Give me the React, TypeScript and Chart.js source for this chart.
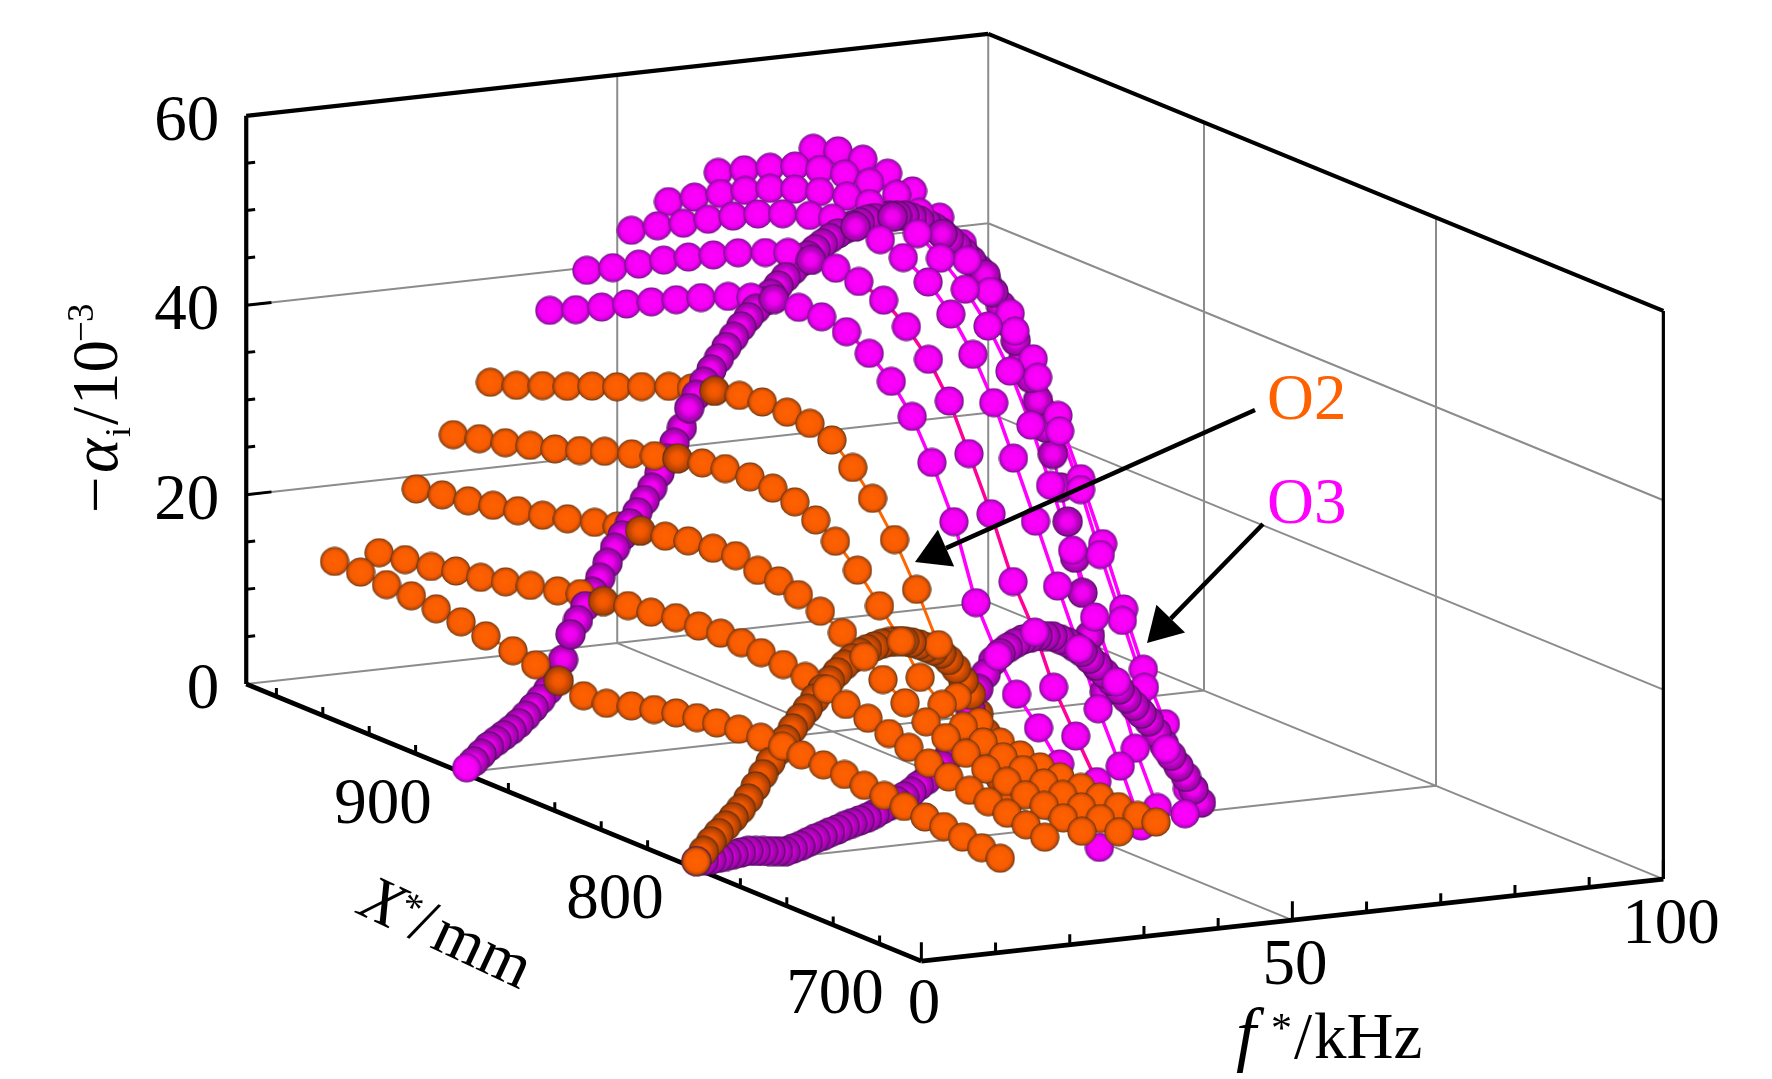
import { useEffect, useRef } from "react";
import { Chart, registerables } from "chart.js";

Chart.register(...registerables);

const FONT = '"Liberation Serif"';
const ORANGE = "#ff6000";
const MAGENTA = "#ff00ff";

const X_MIN = 702;
const X_MAX = 993;

// X* stations (mm) shared by the constant-frequency rows
const stations = [
  986.9, 975.7, 964.5, 953.8, 943.1, 932.4, 921.7, 910, 900.2, 890.3, 879.6,
  869.7, 859, 849.2, 839.7, 830.7, 822.2, 812.7, 803.2, 793.8, 785.7, 776.2,
  767.1, 758.6, 750, 741.4, 732.4, 724.3, 716.2, 708, 700,
];

// O2 rows: -alpha_i at constant f*
const o2Freqs = [10, 16, 21, 26, 31];
const o2Row10 = [
  12.7, 12.7, 12.5, 12.4, 12.1, 11.8, 11.4, 11, 10.5, 9.8, 9.3, 9.5, 10.3, 10.9,
  11.5, 11.9, 12.2, 12.5, 12.6, 12.6, 12.5, 12.4, 12.3, 12, 11.8, 11.5, 11.3,
  11.1, 10.8, 10.5, 10.2,
];
const o2Row16 = [
  13.1, 13.5, 13.9, 14.5, 14.9, 15.5, 16.2, 16.8, 17.5, 17.7, 18.3, 18.6, 19.1,
  19.2, 19.4, 19.3, 19.1, 18.8, 18.5, 18.1, 17.3, 16.8, 16.1, 15.5, 14.7, 14.1,
  13.6, 13.2, 12.8, 12.4, 11.9,
];
const o2Row21 = [
  19.4, 19.9, 20.4, 21, 21.5, 22.1, 22.8, 23.6, 24.2, 24.7, 25.2, 25.7, 26, 26.2,
  25.6, 25.4, 24.8, 24, 22.7, 21.1, 19.5, 18, 16.9, 16.1, 15.3, 14.5, 14.1, 13.5,
  13.2, 12.7, 12.1,
];
const o2Row26 = [
  24.7, 25.4, 26.1, 26.9, 27.6, 28.5, 29.5, 30.4, 31.2, 31.9, 32.5, 32.9, 33.1,
  32.9, 32.4, 31.4, 30, 27.9, 25.1, 22.3, 19.3, 17.4, 16, 15.2, 14.5, 14, 13.5,
  13.1, 12.6, 12.2, 11.6,
];
const o2Row31 = [
  29.8, 30.6, 31.7, 32.7, 33.8, 34.8, 35.9, 37.1, 37.9, 38.6, 39.2, 39.5, 39.5,
  39.3, 38.5, 36.5, 34.1, 30.7, 26.4, 21.5, 16.8, 15.1, 13.9, 13.4, 13, 12.8,
  12.6, 12.4, 12.2, 12.1, 12.2,
];
const o2Rows = [o2Row10, o2Row16, o2Row21, o2Row26, o2Row31];

// O3 rows: -alpha_i at constant f*
const o3Freqs = [39, 44, 50, 55, 61.7, 67.5];
const o3FirstStation = [0, 0, 0, 0, 0, 2];
const o3Row39 = [
  36.7, 37.9, 39.3, 40.7, 42, 43.3, 44.6, 45.9, 46.8, 47.6, 47.8, 47.8, 47.3, 46,
  44, 41.2, 37.2, 31.9, 24.3, 19.6, 16.4, 13.8, 10.9, 7.3, 3.8,
];
const o3Row44 = [
  40.5, 41.9, 43.4, 44.9, 46.3, 47.6, 48.9, 50.1, 51.1, 51.3, 51.5, 51.1, 50.2,
  48.4, 45.9, 42.4, 37.7, 32.3, 26.1, 21.7, 16.7, 12.5, 8.6, 5.7,
];
const o3Row50 = [
  44.2, 45.8, 47.2, 48.7, 50.1, 51.4, 52.5, 53.5, 54.2, 54.3, 54, 53.1, 51.6,
  49.2, 45.9, 41.7, 36.7, 31, 25.1, 19.4, 13.9, 8.8, 3.4,
];
const o3Row55 = [
  46.8, 48.4, 49.9, 51.3, 52.6, 53.6, 54.4, 55.1, 55.3, 54.9, 54.2, 52.6, 50.4,
  47.5, 43.7, 38.9, 33.4, 27.5, 21.4, 15.5, 9.3, 4,
];
const o3Row62 = [
  49.3, 50.7, 52.1, 53.3, 54, 54.6, 54.8, 54.7, 53.8, 52.5, 50.8, 48.5, 45.4,
  41.5, 36.8, 31.5, 25.5, 19.5, 13.4, 7.8, 1.8,
];
const o3Row68 = [
  53.6, 54.4, 54.6, 54.2, 53.4, 51.8, 50, 47.7, 44.7, 40.9, 36, 30.3, 24.4, 18.4,
  12.9, 8.1, 2.2,
];
const o3Rows = [o3Row39, o3Row44, o3Row50, o3Row55, o3Row62, o3Row68];

// constant-X* curves, one value per kHz starting from 0
const curveFreqs = [
  0, 1, 2, 3, 4, 5, 6, 7, 8, 9, 10, 11, 12, 13, 14, 15, 16, 17, 18, 19, 20, 21, 22,
  23, 24, 25, 26, 27, 28, 29, 30, 31, 32, 33, 34, 35, 36, 37, 38, 39, 40, 41, 42,
  43, 44, 45, 46, 47, 48, 49, 50, 51, 52, 53, 54, 55, 56, 57, 58, 59, 60, 61, 62,
  63, 64, 65, 66, 67, 68, 69, 70, 71, 72, 73, 74, 75, 76, 77, 78, 79, 80, 81, 82,
  83, 84, 85, 86,
];
const o3Curve898 = [
  0.7, 1.3, 2, 2.7, 3.2, 3.7, 4.2, 4.8, 5.5, 6.3, 7.1, 8, 9, 11, 13.6, 15, 16.4,
  17.8, 19.2, 20.7, 22.2, 23.4, 24.6, 25.7, 26.9, 28.1, 29.6, 31, 32.6, 34.1, 36.1,
  37.4, 38.7, 39.9, 41, 42.1, 43.1, 44.1, 45, 45.8, 46.5, 47.2, 48, 48.8, 49.5,
  50.2, 50.8, 51.4, 51.9, 52.4, 52.8, 53.2, 53.5, 53.7, 53.9, 54, 54.1, 54.1, 54,
  53.9, 53.6, 53.2, 52.8, 52.3, 51.7, 50.9, 50.1, 49.3, 48.4, 47.4, 46.1, 44.8,
  43.3, 41.4, 39.4, 37.3, 35.3, 32.8, 29.9, 27, 23.4, 19.7, 15.8, 12, 7.4, 4, 1.3,
];
const o3Curve799 = [
  0.8, 0.8, 0.8, 0.9, 1, 1.1, 1.2, 1.3, 1.2, 1.1, 1, 0.9, 0.8, 1, 1.2, 1.5, 1.8,
  2, 2.3, 2.5, 2.8, 3, 3.2, 3.4, 3.7, 4.1, 4.4, 4.8, 5.2, 5.6, 6.2, 6.7, 7.3, 8.1,
  8.9, 10, 11.5, 13.5, 15.7, 17.2, 18.5, 19.2, 19.7, 20.1, 20.4, 20.5, 20.6, 20.5,
  20.4, 20, 19.6, 19, 18.4, 17.6, 16.8, 15.9, 15, 14, 13, 12.1, 11.2, 10.3, 9, 7.7,
  6.4, 5.2, 4, 2.6, 1.1,
];
const o2Curve799 = [
  0.8, 1.8, 2.7, 3.5, 4.2, 5, 5.8, 6.8, 8, 9.2, 10.4, 11.5, 12.6, 13.7, 14.7, 15.6,
  16.6, 17.5, 18.3, 19.1, 19.8, 20.4, 20.9, 21.2, 21.4, 21.6, 21.7, 21.7, 21.6,
  21.4, 21.1, 20.7, 20.3, 19.9, 19.1, 18.1, 16.7, 15.2, 13.1, 11, 8.6, 6, 3.5,
];

// axes
const alphaTicks = [0, 20, 40, 60];
const alphaMinorTicks = [5, 10, 15, 25, 30, 35, 45, 50, 55];
const xGridValues = [800, 900];
const xMinorTicks = [720, 740, 760, 780, 820, 840, 860, 880, 920, 940, 960, 980];
const fMinorTicks = [10, 20, 30, 40, 60, 70, 80, 90];

type Pt = { x: number; y: number };
type Ball = Pt & { depth: number; sprite: string };
type Seg = [number[], number[]];

// fixed oblique view of the (f*, X*, -alpha_i) box onto the page plane
function project(f: number, X: number, a: number): Pt {
  const d = X - 700;
  return {
    x: 926 + 7.42 * f - 2.32 * d,
    y: 963 - 0.82 * f - 0.952 * d - 9.47 * a,
  };
}

function segments(list: Seg[]) {
  const out: Pt[] = [];
  list.forEach(([p, q]) => {
    out.push(project(p[0], p[1], p[2]), project(q[0], q[1], q[2]));
    out.push({ x: NaN, y: NaN });
  });
  return out;
}

const gridSegments = segments([
  [[0, X_MAX, 0], [100, X_MAX, 0]],
  [[100, X_MAX, 0], [100, X_MIN, 0]],
  [[100, X_MAX, 0], [100, X_MAX, 60]],
  [[50, X_MAX, 0], [50, X_MAX, 60]],
  [[50, X_MAX, 0], [50, X_MIN, 0]],
  ...xGridValues.map((X): Seg => [[0, X, 0], [100, X, 0]]),
  ...xGridValues.map((X): Seg => [[100, X, 0], [100, X, 60]]),
  ...[20, 40].map((a): Seg => [[0, X_MAX, a], [100, X_MAX, a]]),
  ...[20, 40].map((a): Seg => [[100, X_MAX, a], [100, X_MIN, a]]),
]);

const frameSegments = segments([
  [[0, X_MAX, 0], [0, X_MAX, 60]],
  [[0, X_MAX, 60], [100, X_MAX, 60]],
  [[100, X_MAX, 60], [100, X_MIN, 60]],
]);

const rightEdgeSegments = segments([[[100, X_MIN, 60], [100, X_MIN, 0]]]);

const baseSegments = segments([
  [[100, X_MIN, 0], [0, X_MIN, 0]],
  [[0, X_MIN, 0], [0, X_MAX, 0]],
]);

const tickSegments = segments([
  ...alphaTicks.slice(1, 3).map((a): Seg => [[0, X_MAX, a], [3.4, X_MAX, a]]),
  ...alphaMinorTicks.map((a): Seg => [[0, X_MAX, a], [1.2, X_MAX, a]]),
  ...xMinorTicks.map((X): Seg => [[0, X, 0], [0, X, 0.9]]),
  ...[X_MIN, 800, 900].map((X): Seg => [[0, X, 0], [0, X, 2]]),
  ...fMinorTicks.map((f): Seg => [[f, X_MIN, 0], [f, X_MIN, 1.1]]),
  ...[0, 50, 100].map((f): Seg => [[f, X_MIN, 0], [f, X_MIN, 2]]),
]);

function rowLine(f: number, values: number[], first: number) {
  return values.map((a, i) => project(f, stations[first + i], a));
}

function curveLine(X: number, values: number[]) {
  return values.map((a, i) => project(curveFreqs[i], X, a));
}

function toBall(f: number, X: number, a: number, sprite: string): Ball {
  return {
    ...project(f, X, a),
    depth: 6.78 * f + 2.53 * (X - 700) - 3.8 * a,
    sprite,
  };
}

function buildBalls() {
  const balls: Ball[] = [];
  o3Rows.forEach((row, r) => {
    row.forEach((a, i) => {
      const X = stations[o3FirstStation[r] + i];
      balls.push(toBall(o3Freqs[r], X, a, X === 890.3 ? "magentaDense" : "magenta"));
    });
  });
  o3Curve898.forEach((a, i) => balls.push(toBall(curveFreqs[i], 898, a, i ? "magentaDense" : "magenta")));
  o3Curve799.forEach((a, i) => balls.push(toBall(curveFreqs[i], 799, a, "magentaDense")));
  o2Rows.forEach((row, r) => {
    row.forEach((a, i) => {
      balls.push(toBall(o2Freqs[r], stations[i], a, stations[i] === 890.3 ? "orangeDense" : "orange"));
    });
  });
  o2Curve799.forEach((a, i) => balls.push(toBall(curveFreqs[i], 799, a, i ? "orangeDense" : "orange")));
  // far balls first, so the nearer ones cover them
  return balls.sort((p, q) => q.depth - p.depth);
}

function makeSprite(size: number, stops: Array<[number, string]>) {
  const c = document.createElement("canvas");
  c.width = size;
  c.height = size;
  const ctx = c.getContext("2d") as CanvasRenderingContext2D;
  const mid = size / 2;
  const r = mid - 0.4;
  const g = ctx.createRadialGradient(mid - 0.4, mid - 0.4, 0, mid, mid, r);
  stops.forEach(([o, col]) => g.addColorStop(o, col));
  ctx.fillStyle = g;
  ctx.beginPath();
  ctx.arc(mid, mid, r, 0, Math.PI * 2);
  ctx.fill();
  return c;
}

function text(
  ctx: CanvasRenderingContext2D,
  str: string,
  x: number,
  y: number,
  size: number,
  opts: { italic?: boolean; align?: CanvasTextAlign; color?: string } = {},
) {
  ctx.font = `${opts.italic ? "italic " : ""}${size}px ${FONT}`;
  ctx.textAlign = opts.align ?? "left";
  ctx.textBaseline = "alphabetic";
  ctx.fillStyle = opts.color ?? "#000";
  ctx.fillText(str, x, y);
}

function arrow(ctx: CanvasRenderingContext2D, tail: number[], tip: number[]) {
  const ang = Math.atan2(tip[1] - tail[1], tip[0] - tail[0]);
  const len = 34;
  const half = 20;
  const bx = tip[0] - len * Math.cos(ang);
  const by = tip[1] - len * Math.sin(ang);
  ctx.strokeStyle = "#000";
  ctx.lineWidth = 4.5;
  ctx.beginPath();
  ctx.moveTo(tail[0], tail[1]);
  ctx.lineTo(bx, by);
  ctx.stroke();
  ctx.fillStyle = "#000";
  ctx.beginPath();
  ctx.moveTo(tip[0], tip[1]);
  ctx.lineTo(bx + half * Math.sin(ang), by - half * Math.cos(ang));
  ctx.lineTo(bx - half * Math.sin(ang), by + half * Math.cos(ang));
  ctx.closePath();
  ctx.fill();
}

const labelsPlugin = {
  id: "labels",
  afterDatasetsDraw(chart: Chart) {
    const ctx = chart.ctx;
    const sx = chart.scales.x;
    const sy = chart.scales.y;
    const px = (x: number) => sx.getPixelForValue(x);
    const py = (y: number) => sy.getPixelForValue(y);
    const size = 65;
    ctx.save();

    alphaTicks.forEach((a) => {
      const p = project(0, X_MAX, a);
      text(ctx, String(a), px(p.x - 27), py(p.y + 24), size, { align: "right" });
    });

    text(ctx, "900", px(383), py(823), size, { align: "center" });
    text(ctx, "800", px(615), py(918), size, { align: "center" });
    text(ctx, "700", px(835), py(1013), size, { align: "center" });
    text(ctx, "0", px(924), py(1023), size, { align: "center" });
    text(ctx, "50", px(1295), py(984), size, { align: "center" });
    text(ctx, "100", px(1671), py(943), size, { align: "center" });

    text(ctx, "f", px(1236), py(1058), 72, { italic: true });
    text(ctx, "*", px(1271), py(1042), 42);
    text(ctx, "/", px(1294), py(1058), size);
    text(ctx, "kHz", px(1314), py(1058), size);

    ctx.save();
    ctx.translate(px(356), py(913));
    ctx.rotate((25 * Math.PI) / 180);
    text(ctx, "X", 0, 0, size, { italic: true });
    text(ctx, "*", 38, -16, 40);
    text(ctx, "/", 56, 0, size);
    text(ctx, "mm", 80, 0, size);
    ctx.restore();

    ctx.save();
    ctx.translate(px(117), py(513));
    ctx.rotate(-Math.PI / 2);
    text(ctx, "\u2212", 0, 0, size);
    text(ctx, "\u03b1", 40, 0, size, { italic: true });
    text(ctx, "i", 76, 13, 36);
    text(ctx, "/", 88, 0, size);
    text(ctx, "10", 108, 0, size);
    text(ctx, "\u2212", 171, -24, 37);
    text(ctx, "3", 191, -24, 37);
    ctx.restore();

    text(ctx, "O2", px(1267), py(419), size, { color: ORANGE });
    text(ctx, "O3", px(1267), py(523), size, { color: MAGENTA });

    arrow(ctx, [px(1255), py(410)], [px(915), py(562)]);
    arrow(ctx, [px(1263), py(524)], [px(1147), py(643)]);
    ctx.restore();
  },
};

export default function App() {
  const canvasRef = useRef<HTMLCanvasElement | null>(null);

  useEffect(() => {
    if (!canvasRef.current) return;

    const sprites: Record<string, HTMLCanvasElement> = {
      orange: makeSprite(30, [[0, "#ff6200"], [0.7, "#f85c02"], [0.88, "#c84c06"], [1, "#54300f"]]),
      magenta: makeSprite(30, [[0, "#ff00ff"], [0.68, "#f400f4"], [0.87, "#c800d4"], [1, "#5c1a70"]]),
      orangeDense: makeSprite(31, [[0, "#fa5c00"], [0.4, "#ee5600"], [0.65, "#cc4a02"], [0.87, "#a84006"], [1, "#4a2a10"]]),
      magentaDense: makeSprite(31, [[0, "#f800f8"], [0.4, "#ec00ec"], [0.65, "#c000c8"], [0.87, "#980aa4"], [1, "#4a0a5a"]]),
    };
    const balls = buildBalls();

    const lineSets = [
      ...o2Rows.map((row, r) => ({
        data: rowLine(o2Freqs[r], row, 0),
        borderColor: "#ff6600",
        borderWidth: 3,
      })),
      ...o3Rows.map((row, r) => ({
        data: rowLine(o3Freqs[r], row, o3FirstStation[r]),
        borderColor: r === 1 ? "#ff0099" : MAGENTA,
        borderWidth: 3.5,
      })),
      { data: curveLine(898, o3Curve898), borderColor: MAGENTA, borderWidth: 3 },
      { data: curveLine(799, o3Curve799), borderColor: MAGENTA, borderWidth: 3 },
      { data: curveLine(799, o2Curve799), borderColor: "#ff6600", borderWidth: 3 },
    ];

    const blackLine = (data: Pt[], borderWidth: number) => ({
      data,
      showLine: true,
      pointRadius: 0,
      borderColor: "#000",
      borderWidth,
      order: 3,
    });

    const chart = new Chart(canvasRef.current, {
      type: "scatter",
      data: {
        datasets: [
          {
            data: balls,
            showLine: false,
            pointStyle: balls.map((b) => sprites[b.sprite]),
            pointRadius: 15,
            order: 1,
          },
          ...lineSets.map((s) => ({
            ...s,
            showLine: true,
            pointRadius: 0,
            tension: 0,
            order: 2,
          })),
          blackLine(tickSegments, 3),
          blackLine(frameSegments, 4.2),
          blackLine(rightEdgeSegments, 3.2),
          blackLine(baseSegments, 4.8),
          {
            data: gridSegments,
            showLine: true,
            pointRadius: 0,
            borderColor: "#8c8c8c",
            borderWidth: 2,
            order: 4,
          },
        ] as any,
      },
      options: {
        responsive: false,
        animation: false,
        devicePixelRatio: 1,
        events: [],
        layout: { padding: 0, autoPadding: false },
        plugins: { legend: { display: false }, tooltip: { enabled: false } },
        scales: {
          x: { type: "linear", min: 0, max: 1772, display: false },
          y: { type: "linear", min: 0, max: 1079, reverse: true, display: false },
        },
      },
      plugins: [labelsPlugin],
    });

    return () => chart.destroy();
  }, []);

  return (
    <div style={{ position: "fixed", left: 0, top: 0, width: 1772, height: 1079, background: "#fff" }}>
      <canvas ref={canvasRef} width={1772} height={1079} style={{ display: "block" }} />
    </div>
  );
}
